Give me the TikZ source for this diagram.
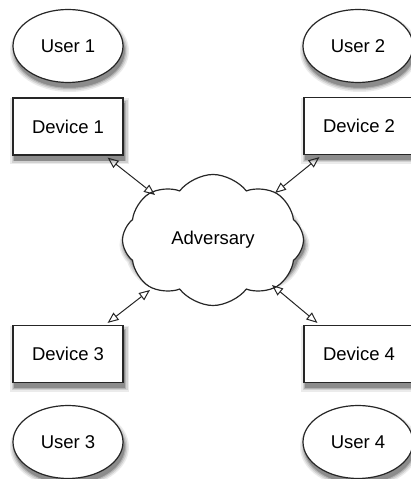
\documentclass[tikz,border=0pt]{standalone}
\usepackage{fontspec}
\setmainfont{Liberation Sans}
\usetikzlibrary{shapes.geometric,shapes.symbols,arrows.meta}

\tikzset{
  base/.style={draw=black!85, line width=1.2pt, fill=white,
    font=\fontsize{18.5pt}{22pt}\selectfont},
  user/.style={base, ellipse, inner sep=0pt, minimum width=110pt, minimum height=73pt},
  device/.style={base, rectangle, inner sep=0pt, minimum width=110pt, minimum height=57pt},
  adversary/.style={base, cloud, cloud puffs=8, cloud puff arc=105,
    inner sep=0pt, minimum width=181pt, minimum height=106pt},
  shadowpart/.style={draw=gray, fill=gray},
  link/.style={line width=1pt, draw=black!85,
    {Triangle[open, length=11pt, width=9pt, line width=1pt]}-{Triangle[open, length=11pt, width=9pt, line width=1pt]}}
}

% soft drop shadow: stacked grey copies of a shape, lightest and widest first
\newcommand\softshadow[4]{% #1 style, #2 x, #3 y, #4 name
  \node[#1, shadowpart, draw=black!8, fill=black!8, line width=9pt] (#4-sh1) at (#2+1.5,#3-5) {};
  \node[#1, shadowpart, draw=black!18, fill=black!18, line width=6pt] (#4-sh2) at (#2+1.5,#3-5) {};
  \node[#1, shadowpart, draw=black!30, fill=black!30, line width=3pt] (#4-sh3) at (#2+1.5,#3-5) {};
  \node[#1, shadowpart, draw=black!45, fill=black!45, line width=0.5pt] (#4-sh4) at (#2+1.5,#3-5) {};
}

\begin{document}
\begin{tikzpicture}[x=1pt, y=1pt]
  \useasboundingbox (0,0) rectangle (411,479);
  \clip (0,0) rectangle (411,479);

  % shadows
  \softshadow{user}{68}{433}{u1}
  \softshadow{user}{358}{433}{u2}
  \softshadow{user}{68}{37}{u3}
  \softshadow{user}{358}{37}{u4}
  \softshadow{device}{68}{352.5}{d1}
  \softshadow{device}{359}{353}{d2}
  \softshadow{device}{68}{125}{d3}
  \softshadow{device}{359}{125}{d4}
  \softshadow{adversary}{213}{239}{adv}

  % users
  \node[user] (u1) at (68,433) {User 1};
  \node[user] (u2) at (358,433) {User 2};
  \node[user] (u3) at (68,37) {User 3};
  \node[user] (u4) at (358,37) {User 4};

  % devices
  \node[device] (d1) at (68,352.5) {Device 1};
  \node[device] (d2) at (359,353) {Device 2};
  \node[device] (d3) at (68,125) {Device 3};
  \node[device] (d4) at (359,125) {Device 4};

  % adversary in the middle
  \node[adversary] (adv) at (213,239) {Adversary};

  % channels between devices and adversary
  \draw[link] ([shift={(-16pt,-2pt)}]d1.south east) -- ([shift={(-58pt,45pt)}]adv.center);
  \draw[link] ([shift={(16pt,-2pt)}]d2.south west) -- ([shift={(62pt,47pt)}]adv.center);
  \draw[link] ([shift={(-63pt,-50pt)}]adv.center) -- ([shift={(-16pt,2pt)}]d3.north east);
  \draw[link] ([shift={(59pt,-45pt)}]adv.center) -- ([shift={(14pt,2pt)}]d4.north west);
\end{tikzpicture}
\end{document}
